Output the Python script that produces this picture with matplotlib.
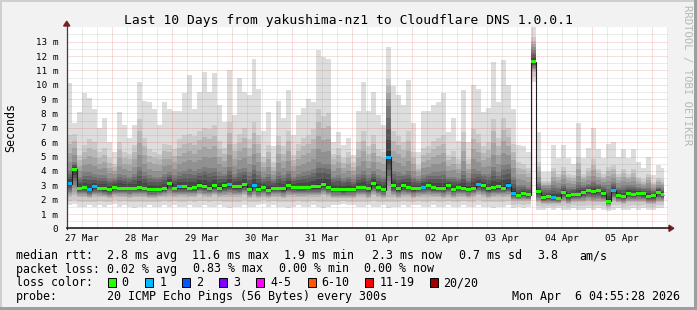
import numpy as np
import matplotlib
matplotlib.use("Agg")
import matplotlib.pyplot as plt
from matplotlib.patches import Rectangle, Polygon
import matplotlib.transforms as mtransforms

# ---------------- data (2-hour columns, values in milliseconds) ----------------
title = "Last 10 Days from yakushima-nz1 to Cloudflare DNS 1.0.0.1"
t_first = 5.92      # hours after 27 Mar 00:00 of first column
t_last = 245.1      # hours after 27 Mar 00:00 of last data
col_hours = 2.0

med = [3.1, 4.1, 2.8, 2.83, 2.68, 2.88, 2.78, 2.74, 2.69, 2.85,
       2.8, 2.78, 2.8, 2.78, 2.83, 2.78, 2.7, 2.7, 2.7, 2.78,
       3.15, 2.8, 2.88, 2.88, 2.78, 2.83, 3.0, 2.9, 2.78, 2.95,
       2.8, 2.95, 3.05, 2.9, 2.88, 3.05, 2.7, 2.96, 2.72, 2.83,
       2.65, 2.8, 2.78, 2.74, 2.95, 2.85, 2.83, 2.83, 2.85, 2.88,
       2.88, 3.05, 2.85, 2.72, 2.72, 2.67, 2.72, 2.72, 2.85, 2.85,
       2.75, 3.1, 2.83, 2.7, 4.96, 2.95, 2.75, 2.95, 2.85, 2.75,
       2.78, 2.85, 2.95, 2.83, 2.8, 2.78, 2.95, 2.72, 2.83, 2.78,
       2.72, 2.8, 3.05, 2.95, 2.75, 2.83, 2.88, 2.8, 2.95, 2.45,
       2.3, 2.4, 2.32, 11.6, 2.55, 2.13, 2.2, 2.12, 2.1, 2.5,
       2.25, 2.32, 2.35, 2.5, 2.6, 2.55, 2.6, 2.4, 1.9, 2.62,
       2.3, 2.2, 2.45, 2.35, 2.45, 2.4, 2.2, 2.25, 2.5, 2.35]

loss = [1, 0, 0, 0, 1, 1, 0, 0, 0, 0,
        0, 0, 0, 0, 0, 0, 0, 0, 0, 0,
        0, 0, 1, 0, 0, 0, 0, 0, 0, 0,
        0, 0, 1, 0, 0, 0, 0, 1, 0, 0,
        0, 0, 0, 0, 0, 0, 0, 0, 0, 0,
        0, 0, 0, 0, 0, 0, 0, 0, 0, 0,
        0, 0, 0, 0, 1, 0, 0, 0, 0, 0,
        0, 1, 0, 0, 0, 0, 0, 0, 0, 0,
        0, 0, 1, 0, 0, 0, 0, 0, 1, 1,
        0, 0, 0, 0, 0, 0, 0, 1, 0, 0,
        0, 0, 0, 0, 0, 0, 0, 0, 0, 1,
        0, 0, 0, 0, 0, 0, 0, 0, 0, 0]

top = [10.1, 7.3, 8.1, 9.4, 9.1, 8.3, 7.0, 7.7, 6.0, 5.3,
       8.1, 7.2, 6.3, 7.2, 10.2, 8.9, 8.8, 8.3, 7.2, 8.8,
       8.3, 8.2, 8.2, 9.4, 10.7, 8.3, 9.5, 10.9, 9.5, 10.8,
       8.6, 7.4, 11.0, 7.9, 10.5, 9.5, 9.3, 11.8, 9.7, 6.8,
       8.1, 5.7, 8.9, 7.7, 9.6, 6.5, 7.9, 8.4, 9.0, 8.8,
       12.4, 11.9, 11.8, 6.0, 6.7, 5.8, 6.3, 5.1, 8.2, 10.2,
       8.2, 9.5, 7.9, 7.2, 12.6, 9.9, 9.3, 8.6, 10.3, 7.3,
       5.3, 8.2, 8.2, 8.6, 8.8, 9.4, 6.7, 7.7, 6.1, 9.6,
       6.0, 10.0, 9.7, 8.1, 8.4, 11.6, 8.8, 11.7, 10.0, 8.3,
       5.8, 5.7, 5.3, 14.0, 6.7, 3.9, 3.9, 5.8, 4.9, 5.8,
       4.9, 4.5, 7.3, 4.9, 5.6, 7.0, 5.5, 4.9, 5.9, 6.0,
       5.0, 5.5, 4.9, 5.5, 4.6, 4.2, 5.0, 3.7, 4.4, 4.2]

high = [6.5, 6.6, 5.1, 5.8, 6.2, 6.0, 5.3, 5.6, 4.9, 4.5,
        6.0, 5.3, 5.2, 5.8, 7.6, 6.3, 5.5, 5.3, 5.2, 5.9,
        5.8, 5.5, 6.2, 6.5, 6.6, 6.4, 6.8, 7.0, 6.9, 7.2,
        6.1, 5.6, 7.4, 5.9, 6.6, 7.0, 6.2, 7.4, 6.5, 5.0,
        5.8, 4.6, 6.4, 5.7, 6.8, 5.1, 5.9, 6.3, 6.5, 6.9,
        8.3, 7.8, 8.0, 5.2, 5.6, 4.9, 5.3, 4.6, 6.0, 6.8,
        5.7, 6.5, 5.5, 5.3, 10.4, 6.8, 6.4, 6.0, 6.8, 5.3,
        4.4, 5.6, 5.7, 6.1, 6.3, 6.5, 5.1, 5.4, 4.8, 6.7,
        4.8, 6.9, 6.6, 5.7, 6.0, 7.6, 6.3, 7.7, 7.0, 5.9,
        4.6, 4.5, 4.2, 13.3, 4.6, 3.3, 3.3, 4.2, 3.8, 4.3,
        3.8, 3.7, 5.0, 3.8, 4.2, 4.8, 4.1, 3.8, 4.3, 4.4,
        3.8, 4.1, 3.8, 4.1, 3.6, 3.4, 3.8, 3.2, 3.5, 3.4]

dark = [4.0, 4.6, 3.6, 3.9, 3.9, 3.8, 3.7, 3.7, 3.5, 3.5,
        3.8, 3.7, 3.6, 3.8, 4.3, 3.9, 3.7, 3.6, 3.6, 3.8,
        3.9, 3.7, 3.9, 4.0, 4.1, 4.0, 4.1, 4.3, 4.2, 4.2,
        3.9, 3.8, 4.3, 3.8, 4.1, 4.2, 3.9, 4.4, 4.0, 3.6,
        3.8, 3.4, 3.9, 3.7, 4.0, 3.6, 3.8, 3.9, 4.0, 4.1,
        4.6, 4.5, 4.5, 3.6, 3.7, 3.5, 3.6, 3.4, 3.8, 4.0,
        3.7, 4.0, 3.7, 3.6, 8.5, 4.0, 3.9, 3.8, 4.0, 3.6,
        3.4, 3.7, 3.8, 3.9, 3.9, 4.0, 3.6, 3.6, 3.5, 4.0,
        3.5, 4.1, 4.0, 3.8, 3.8, 4.3, 3.9, 4.4, 4.5, 3.6,
        3.0, 3.0, 2.9, 12.4, 3.2, 2.8, 2.8, 3.0, 2.9, 3.1,
        2.9, 2.9, 3.2, 3.0, 3.1, 3.3, 3.1, 3.0, 3.0, 3.2,
        2.9, 3.0, 3.0, 3.0, 2.9, 2.8, 2.9, 2.7, 2.9, 2.8]

low = [2.2, 2.3, 2.2, 2.2, 2.1, 2.2, 2.2, 2.2, 2.1, 2.2,
       2.2, 2.2, 2.1, 2.2, 2.2, 2.2, 2.1, 2.1, 2.2, 2.2,
       2.2, 2.2, 2.2, 2.2, 2.2, 2.2, 2.3, 2.2, 2.2, 2.3,
       2.2, 2.2, 2.2, 2.2, 2.2, 2.3, 2.1, 2.2, 2.1, 2.2,
       2.1, 2.2, 2.2, 2.1, 2.2, 2.2, 2.2, 2.2, 2.2, 2.2,
       2.2, 2.3, 2.2, 2.1, 2.1, 2.1, 2.1, 2.1, 2.2, 2.2,
       2.1, 2.3, 2.2, 2.1, 2.2, 2.2, 2.1, 2.2, 2.2, 2.1,
       2.2, 2.2, 2.2, 2.2, 2.2, 2.1, 2.2, 2.1, 2.2, 2.2,
       2.1, 2.2, 2.3, 2.2, 2.1, 2.2, 2.2, 2.2, 2.2, 1.9,
       1.9, 1.9, 1.9, 10.9, 1.8, 1.7, 1.7, 1.7, 1.7, 1.8,
       1.7, 1.8, 1.8, 1.8, 1.9, 1.8, 1.8, 1.8, 1.5, 1.9,
       1.8, 1.7, 1.8, 1.8, 1.8, 1.8, 1.7, 1.7, 1.8, 1.8]

bottom = [1.6, 1.7, 1.5, 1.5, 1.6, 1.5, 1.6, 1.5, 1.6, 1.7,
          1.5, 1.6, 1.5, 1.4, 1.5, 1.5, 1.6, 1.5, 1.5, 1.6,
          1.5, 1.6, 1.5, 1.5, 1.6, 1.5, 1.5, 1.6, 1.5, 1.5,
          1.6, 1.5, 1.4, 1.5, 1.5, 1.6, 1.5, 1.5, 1.6, 1.7,
          1.5, 1.6, 1.5, 1.5, 1.4, 1.5, 1.6, 1.5, 1.5, 1.6,
          1.5, 1.4, 1.5, 1.6, 1.6, 1.7, 1.6, 1.6, 1.5, 1.5,
          1.6, 1.5, 1.5, 1.6, 1.4, 1.5, 1.5, 1.6, 1.5, 1.6,
          1.6, 1.5, 1.5, 1.6, 1.5, 1.5, 1.6, 1.5, 1.5, 1.6,
          1.5, 1.5, 1.6, 1.5, 1.5, 1.4, 1.5, 1.5, 1.6, 1.4,
          1.5, 1.4, 1.5, 10.2, 1.3, 1.3, 1.4, 1.3, 1.4, 1.3,
          1.3, 1.4, 1.3, 1.3, 1.4, 1.3, 1.4, 1.3, 1.2, 1.3,
          1.4, 1.3, 1.3, 1.4, 1.3, 1.4, 1.3, 1.3, 1.4, 1.4]

ytick_vals = list(range(14))
ytick_labels = ["0"] + ["%d m" % v for v in range(1, 14)]
day_labels = ["27 Mar", "28 Mar", "29 Mar", "30 Mar", "31 Mar",
              "01 Apr", "02 Apr", "03 Apr", "04 Apr", "05 Apr"]

rtt_stats = ["2.8 ms avg", "11.6 ms max", "1.9 ms min", "2.3 ms now", "0.7 ms sd", "3.8", "am/s"]
loss_stats = ["0.02 % avg", "0.83 % max", "0.00 % min", "0.00 % now"]
loss_names = ["0", "1", "2", "3", "4-5", "6-10", "11-19", "20/20"]
loss_colors = ["#26ff00", "#00b8ff", "#0059ff", "#7e00ff", "#ff00ff", "#ff5500", "#ff0000", "#a10000"]
probe_text = "20 ICMP Echo Pings (56 Bytes) every 300s"
stamp_text = "Mon Apr  6 04:55:28 2026"

# ---------------- layout ----------------
W, H = 697, 310
MONO = "DejaVu Sans Mono"
plt.rcParams['font.family'] = [MONO]

fig = plt.figure(figsize=(W / 100, H / 100), dpi=100)
fig.patch.set_facecolor('#f2f2f2')

AX_L, AX_R, AX_T, AX_B = 66.7, 668.3, 27.3, 228.3
ax = fig.add_axes([AX_L / W, 1 - AX_B / H, (AX_R - AX_L) / W, (AX_B - AX_T) / H])
ax.set_facecolor('white')
ax.set_xlim(6.0, 246.64)
ax.set_ylim(0, 14)
for s in ax.spines.values():
    s.set_visible(False)
ax.set_xticks([])
ax.set_yticks([])

def fx(px):
    return px / W

def fy(py):
    return 1 - py / H

n = len(med)
edges = t_first + col_hours * np.arange(n + 1)
edges[-1] = min(edges[-1], t_last)

# ---------------- smoke ----------------
ranks = [1, 3, 10.5, 15, 19, 20]
anchors = np.vstack([bottom, low, med, dark, high, top])
k = np.arange(1, 21)
pings = np.array([np.interp(k, ranks, anchors[:, c]) for c in range(n)])
half = 10
for ibot in range(1, half + 1):
    g = int(190 / half * (half - ibot)) + 50
    col = '#%02x%02x%02x' % (g, g, g)
    ax.stairs(pings[:, 20 - ibot], edges, baseline=pings[:, ibot - 1], fill=True,
              color=col, lw=0, antialiased=False, zorder=1)

# ---------------- grid ----------------
minor_c = (0.56, 0.56, 0.56, 0.35)
major_c = (0.87, 0.31, 0.31, 0.38)
gkw = dict(lw=0.72, ls=(0, (1, 1)), zorder=2)
for v in np.arange(0.5, 14, 1.0):
    ax.axhline(v, color=minor_c, **gkw)
for v in range(1, 14):
    ax.axhline(v, color=major_c, **gkw)
for h in range(12, 247, 6):
    ax.axvline(h, color=(major_c if h % 24 == 0 else minor_c), **gkw)

# ---------------- median ----------------
ax.stairs(med, edges, baseline=None, color='#202020', lw=0.8, zorder=3)
px_per_ms = (AX_B - AX_T) / 14.0
hh = 1.5 / px_per_ms
ax.bar(edges[:-1], 2 * hh, width=np.diff(edges), bottom=np.array(med) - hh, align='edge',
       color=[loss_colors[l] for l in loss], lw=0, zorder=4)

# ---------------- axes, arrows ----------------
fig.add_artist(plt.Line2D([fx(AX_L), fx(AX_L)], [fy(AX_B + 0.5), fy(23)], color='#3a3a3a', lw=0.9))
fig.add_artist(plt.Line2D([fx(AX_L), fx(670)], [fy(AX_B), fy(AX_B)], color='#1f1f1f', lw=1.2))
fig.add_artist(Polygon([[fx(66.7), fy(21.2)], [fx(63.6), fy(26.0)], [fx(69.8), fy(26.0)]],
                       closed=True, color='#801f1f', transform=fig.transFigure))
fig.add_artist(Polygon([[fx(673.8), fy(228.3)], [fx(669.0), fy(225.2)], [fx(669.0), fy(231.4)]],
                       closed=True, color='#801f1f', transform=fig.transFigure))

# ---------------- tick labels ----------------
ytr = mtransforms.offset_copy(mtransforms.blended_transform_factory(ax.transAxes, ax.transData),
                              fig=fig, x=-8.6, y=-3.6, units='dots')
for v, lab in zip(ytick_vals, ytick_labels):
    ax.text(0, v, lab, transform=ytr, ha='right', va='baseline', fontsize=6.7, color='black')

xtr = mtransforms.offset_copy(mtransforms.blended_transform_factory(ax.transData, ax.transAxes),
                              fig=fig, x=0, y=-13.0, units='dots')
for i, lab in enumerate(day_labels):
    ax.text(12 + 24 * i, 0, lab, transform=xtr, ha='center', va='baseline', fontsize=6.7,
            color='black', clip_on=False)

# ---------------- titles ----------------
fig.text(fx(348.3), fy(24), title, ha='center', va='baseline', fontsize=9.4, color='black')
fig.text(fx(10.5), fy(127.7), "Seconds", rotation=90, ha='center', va='center', fontsize=8.4)
fig.text(fx(687), fy(5), "RRDTOOL / TOBI OETIKER", rotation=270, ha='center', va='top',
         fontsize=7.6, color='#b8b8b8')

# ---------------- legend ----------------
LF = 8.4
b1, b2, b3, b4 = 259.2, 272.5, 286.5, 300.2
fig.text(fx(16), fy(b1), "median rtt:", fontsize=LF, va='baseline')
for xx, s in zip([107.2, 191.6, 283.6, 371.6, 458.6, 537.6, 579.6], rtt_stats):
    fig.text(fx(xx), fy(b1), s, fontsize=LF, va='baseline')
fig.text(fx(16), fy(b2), "packet loss:", fontsize=LF, va='baseline')
for xx, s in zip([107.2, 192.6, 278.6, 363.6], loss_stats):
    fig.text(fx(xx), fy(b2), s, fontsize=LF, va='baseline')
fig.text(fx(16), fy(b3), "loss color:", fontsize=LF, va='baseline')
box_x = [108, 145, 182, 219, 256, 307.6, 365, 430]
lab_x = [121.6, 159.6, 196.6, 233.6, 270.6, 321.6, 379.6, 443.6]
for bx, lx, name, c in zip(box_x, lab_x, loss_names, loss_colors):
    fig.add_artist(Rectangle((fx(bx), fy(286.7)), 8.2 / W, 8.4 / H, facecolor=c,
                             edgecolor='black', lw=0.7, transform=fig.transFigure))
    fig.text(fx(lx), fy(b3), name, fontsize=LF, va='baseline')
fig.text(fx(16), fy(b4), "probe:", fontsize=LF, va='baseline')
fig.text(fx(107.2), fy(b4), probe_text, fontsize=LF, va='baseline')
fig.text(fx(680.5), fy(b4), stamp_text, fontsize=LF, va='baseline', ha='right')

# ---------------- frame ----------------
fig.add_artist(Rectangle((0, fy(2)), 1, 2 / H, facecolor='#cfcfcf', lw=0, transform=fig.transFigure))
fig.add_artist(Rectangle((0, 0), 2 / W, 1, facecolor='#cfcfcf', lw=0, transform=fig.transFigure))
fig.add_artist(Rectangle((0, 0), 1, 3 / H, facecolor='#9e9e9e', lw=0, transform=fig.transFigure))
fig.add_artist(Rectangle((fx(694), 0), 3 / W, 1, facecolor='#9e9e9e', lw=0, transform=fig.transFigure))

fig.savefig("out.png", dpi=100, facecolor=fig.get_facecolor())
